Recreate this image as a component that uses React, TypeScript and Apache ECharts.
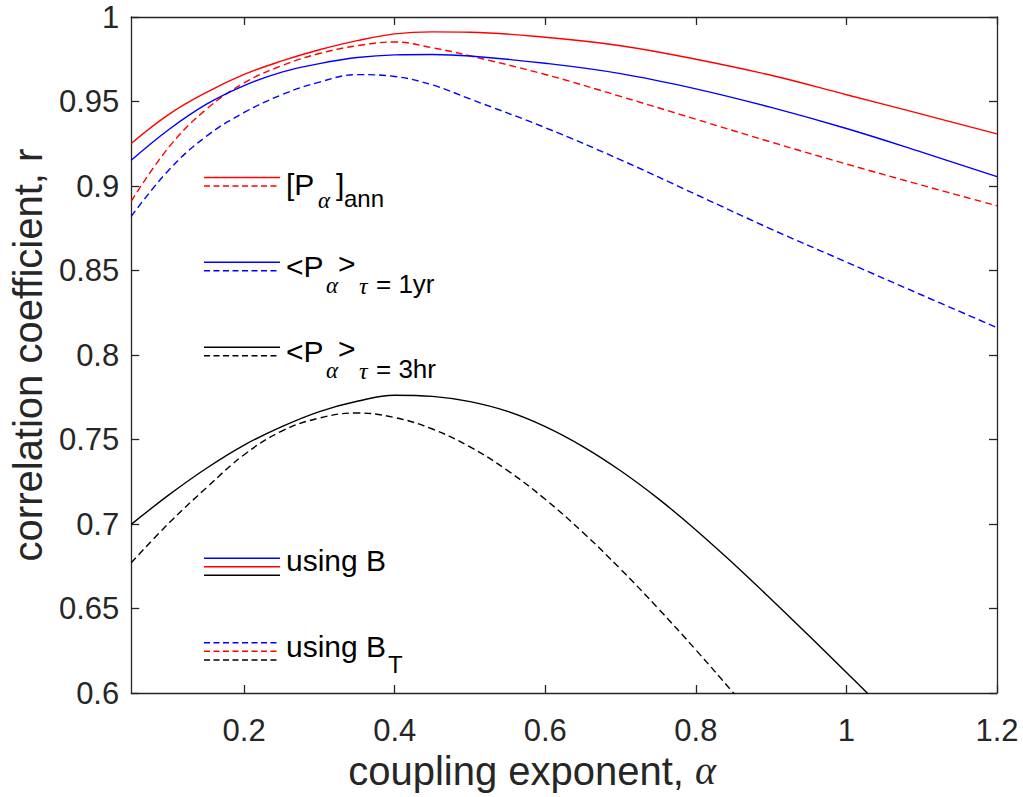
import React, { useEffect, useRef } from "react";
import * as echarts from "echarts";

// x positions (coupling exponent alpha)
const alphaUpper = [0.05, 0.1, 0.15, 0.2, 0.25, 0.3, 0.35, 0.4, 0.45, 0.5, 0.6, 0.7, 0.8, 0.9, 1.0, 1.1, 1.2];
const annB = [0.9252, 0.9424, 0.9554, 0.966, 0.974, 0.9806, 0.986, 0.99, 0.9912, 0.991, 0.988, 0.983, 0.975, 0.9655, 0.954, 0.9425, 0.9308];
const annBT = [0.891, 0.923, 0.9455, 0.961, 0.9712, 0.9784, 0.983, 0.9852, 0.9818, 0.977, 0.966, 0.953, 0.9395, 0.926, 0.913, 0.9005, 0.8883];
const yrB = [0.9152, 0.9334, 0.9484, 0.9594, 0.9674, 0.9724, 0.976, 0.9776, 0.9778, 0.9769, 0.9726, 0.9665, 0.9575, 0.9465, 0.934, 0.92, 0.9055];
const yrBT = [0.882, 0.9095, 0.9295, 0.9435, 0.954, 0.9615, 0.9659, 0.9648, 0.9598, 0.9515, 0.9345, 0.9155, 0.895, 0.8745, 0.855, 0.8355, 0.8162];

const alphaHrB = [0.05, 0.1, 0.15, 0.2, 0.25, 0.3, 0.35, 0.4, 0.45, 0.5, 0.55, 0.6, 0.65, 0.7, 0.75, 0.8, 0.85, 0.9, 0.95, 1.0, 1.05];
const hrB = [0.6998, 0.7172, 0.733, 0.7467, 0.7576, 0.7665, 0.7726, 0.7762, 0.7755, 0.7724, 0.7666, 0.7576, 0.7458, 0.7315, 0.715, 0.6965, 0.6765, 0.6555, 0.634, 0.6122, 0.59];
const alphaHrBT = [0.05, 0.1, 0.15, 0.2, 0.25, 0.3, 0.35, 0.4, 0.45, 0.5, 0.55, 0.6, 0.65, 0.7, 0.75, 0.8, 0.85, 0.9];
const hrBT = [0.6771, 0.7005, 0.7215, 0.741, 0.755, 0.7627, 0.7657, 0.763, 0.7562, 0.7456, 0.7316, 0.7146, 0.695, 0.6733, 0.65, 0.6255, 0.6, 0.5738];

const xTicks = [0.2, 0.4, 0.6, 0.8, 1, 1.2];

const RED = "#ff0000";
const BLUE = "#0000ff";
const BLACK = "#000000";
const AXIS = "#262626";
const SANS = "'Liberation Sans', Arial, Helvetica, sans-serif";
const SERIF = "'Liberation Serif', 'DejaVu Serif', 'Times New Roman', serif";
const DASH = [7, 4];

const pairs = (xs: number[], ys: number[]) => xs.map((x, i) => [x, ys[i]]);
const fmt = (v: number) => String(+Number(v).toFixed(2));

function lineSeries(name: string, xs: number[], ys: number[], color: string, dashed: boolean) {
  return {
    name,
    type: "line",
    data: pairs(xs, ys),
    smooth: 0.4,
    showSymbol: false,
    symbol: "none",
    clip: true,
    lineStyle: { color, width: 1.4, type: dashed ? DASH : "solid" },
    z: 3,
  };
}

function legLine(x1: number, x2: number, y: number, color: string, dashed: boolean) {
  return {
    type: "line",
    shape: { x1, y1: y, x2, y2: y },
    style: { stroke: color, lineWidth: 1.5, lineDash: dashed ? [6, 3.5] : null },
    silent: true,
  };
}

function txt(text: string, x: number, y: number, size: number, serifItalic = false) {
  return {
    type: "text",
    x,
    y,
    silent: true,
    style: {
      text,
      fill: "#000000",
      fontSize: size,
      fontFamily: serifItalic ? SERIF : SANS,
      fontStyle: serifItalic ? "italic" : "normal",
      align: "left",
      verticalAlign: "middle",
    },
  };
}

export default function App() {
  const ref = useRef<HTMLDivElement>(null);

  useEffect(() => {
    document.body.style.margin = "0";
    if (!ref.current) return;
    const chart = echarts.init(ref.current, null, { renderer: "svg" });

    const LX1 = 204;
    const LX2 = 280;
    const TX = 286;

    const graphic: any[] = [
      // item 1: [P_alpha]_ann
      legLine(LX1, LX2, 177.5, RED, false),
      legLine(LX1, LX2, 186, RED, true),
      txt("[P", TX, 184.5, 30),
      txt("α", 318, 200.5, 23, true),
      txt("]", 336, 184.5, 30),
      txt("ann", 344, 198.3, 24),
      // item 2: <P_alpha>_tau = 1yr
      legLine(LX1, LX2, 262.3, BLUE, false),
      legLine(LX1, LX2, 270.7, BLUE, true),
      txt("<P", TX, 266.3, 30),
      txt("α", 326, 285.5, 23, true),
      txt(">", 338, 263, 30),
      txt("τ", 359, 285.5, 24, true),
      txt("= 1yr", 376, 284.2, 26),
      // item 3: <P_alpha>_tau = 3hr
      legLine(LX1, LX2, 347.3, BLACK, false),
      legLine(LX1, LX2, 355.7, BLACK, true),
      txt("<P", TX, 351.3, 30),
      txt("α", 326, 370.5, 23, true),
      txt(">", 338, 348, 30),
      txt("τ", 359, 370.5, 24, true),
      txt("= 3hr", 376, 369.2, 26),
      // item 4: using B
      legLine(LX1, LX2, 558.3, BLUE, false),
      legLine(LX1, LX2, 566.7, RED, false),
      legLine(LX1, LX2, 575.3, BLACK, false),
      txt("using B", TX, 560.5, 30),
      // item 5: using B_T
      legLine(LX1, LX2, 642.7, BLUE, true),
      legLine(LX1, LX2, 651.3, RED, true),
      legLine(LX1, LX2, 660, BLACK, true),
      txt("using B", TX, 646.2, 30),
      txt("T", 388, 664.6, 24),
    ];

    const axisLineStyle = { color: AXIS, width: 1.3 };

    const option: any = {
      animation: false,
      backgroundColor: "#ffffff",
      grid: { left: 129, right: 26, top: 17, bottom: 104, containLabel: false },
      xAxis: [
        {
          type: "value",
          min: 0.05,
          max: 1.2,
          position: "bottom",
          axisLine: { show: true, onZero: false, lineStyle: axisLineStyle },
          axisTick: { show: true, inside: true, length: 8, customValues: xTicks, lineStyle: axisLineStyle },
          axisLabel: {
            customValues: xTicks,
            margin: 22,
            color: AXIS,
            fontSize: 31,
            fontFamily: SANS,
            formatter: (v: number) => fmt(v),
          },
          splitLine: { show: false },
          name: "coupling exponent, {a|α}",
          nameLocation: "middle",
          nameGap: 55,
          nameTextStyle: {
            color: AXIS,
            fontSize: 40,
            fontFamily: SANS,
            padding: [0, 64, 0, 0],
            rich: { a: { fontSize: 40, fontFamily: SERIF, fontStyle: "italic", color: AXIS } },
          },
        },
        {
          type: "value",
          min: 0.05,
          max: 1.2,
          position: "top",
          axisLine: { show: true, onZero: false, lineStyle: axisLineStyle },
          axisTick: { show: true, inside: true, length: 8, customValues: xTicks, lineStyle: axisLineStyle },
          axisLabel: { show: false },
          splitLine: { show: false },
        },
      ],
      yAxis: [
        {
          type: "value",
          min: 0.6,
          max: 1,
          interval: 0.05,
          position: "left",
          axisLine: { show: true, onZero: false, lineStyle: axisLineStyle },
          axisTick: { show: true, inside: true, length: 8, lineStyle: axisLineStyle },
          axisLabel: { margin: 12, color: AXIS, fontSize: 31, fontFamily: SANS, formatter: (v: number) => fmt(v) },
          splitLine: { show: false },
          name: "correlation coefficient, r",
          nameLocation: "middle",
          nameGap: 82,
          nameTextStyle: { color: AXIS, fontSize: 40, fontFamily: SANS },
        },
        {
          type: "value",
          min: 0.6,
          max: 1,
          interval: 0.05,
          position: "right",
          axisLine: { show: true, onZero: false, lineStyle: axisLineStyle },
          axisTick: { show: true, inside: true, length: 8, lineStyle: axisLineStyle },
          axisLabel: { show: false },
          splitLine: { show: false },
        },
      ],
      series: [
        lineSeries("[Pα]ann using B", alphaUpper, annB, RED, false),
        lineSeries("[Pα]ann using BT", alphaUpper, annBT, RED, true),
        lineSeries("<Pα>τ=1yr using B", alphaUpper, yrB, BLUE, false),
        lineSeries("<Pα>τ=1yr using BT", alphaUpper, yrBT, BLUE, true),
        lineSeries("<Pα>τ=3hr using B", alphaHrB, hrB, BLACK, false),
        lineSeries("<Pα>τ=3hr using BT", alphaHrBT, hrBT, BLACK, true),
      ],
      graphic,
    };

    chart.setOption(option);
    return () => chart.dispose();
  }, []);

  return <div ref={ref} style={{ width: 1023, height: 797 }} />;
}
